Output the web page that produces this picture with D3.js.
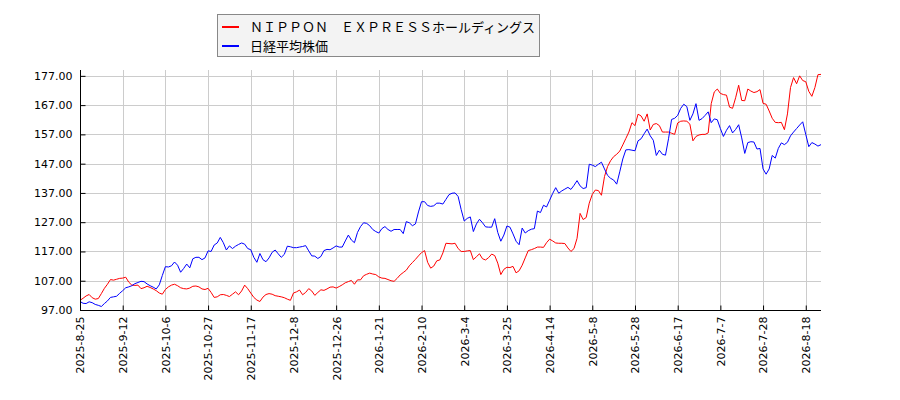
<!DOCTYPE html>
<html><head><meta charset="utf-8">
<script src="https://cdn.jsdelivr.net/npm/d3@7/dist/d3.min.js"></script>
<style>body{margin:0;background:#fff;}svg{display:block;}</style>
</head><body>
<svg id="chart" width="900" height="400"></svg>
<script>
const seriesNames = ["ＮＩＰＰＯＮ　ＥＸＰＲＥＳＳホールディングス", "日経平均株価"];
const seriesColors = ["#ff0000", "#0000ff"];
const tickLabels = ["2025-8-25","2025-9-12","2025-10-6","2025-10-27","2025-11-17","2025-12-8","2025-12-26","2026-1-21","2026-2-10","2026-3-4","2026-3-25","2026-4-14","2026-5-8","2026-5-28","2026-6-17","2026-7-7","2026-7-28","2026-8-18"];
const tickStep = 14;
const yTicks = [97,107,117,127,137,147,157,167,177];

const nipponExpress = [
100.3,101.0,101.8,102.3,101.2,100.7,100.9,102.6,104.4,105.8,
107.4,107.2,107.5,107.8,107.9,108.2,106.5,105.5,105.4,105.5,
104.3,104.6,105.1,104.7,104.2,103.6,102.8,102.4,104.0,104.9,
105.5,105.8,105.3,104.6,104.3,104.2,104.5,105.1,105.2,104.9,
104.2,104.0,104.4,103.0,101.3,101.5,102.2,102.3,102.0,101.6,
102.4,103.2,102.2,103.5,105.5,104.3,102.8,101.3,100.4,99.9,
101.4,102.3,102.6,102.4,101.9,101.7,101.5,101.2,100.7,100.3,
102.8,103.2,103.8,102.2,103.0,104.3,103.5,102.0,103.0,103.9,
103.7,104.2,104.8,104.9,104.5,105.0,105.6,106.3,106.7,107.1,
105.8,107.3,107.3,108.7,109.2,109.6,109.3,109.1,108.3,107.9,
107.8,107.4,107.0,106.8,107.8,109.0,109.8,110.6,112.1,113.2,
114.3,115.5,116.6,117.3,113.3,111.3,112.0,113.8,114.1,116.5,
119.8,119.7,119.6,119.8,118.0,117.0,117.0,117.2,117.3,114.2,
115.2,116.2,114.5,114.1,114.9,116.1,115.6,113.0,109.1,110.9,
111.6,111.5,111.9,109.7,110.4,112.3,114.8,117.3,117.6,118.0,
118.5,118.5,118.4,120.0,121.2,120.6,119.9,119.8,119.8,119.7,
118.2,117.0,118.0,121.5,130.0,127.9,128.6,133.5,136.5,138.0,
137.8,136.2,142.6,146.0,148.0,149.4,150.2,151.3,153.4,155.6,
157.8,161.0,160.0,163.9,163.3,161.5,164.0,158.5,160.4,160.7,
160.0,157.8,157.8,157.8,157.4,157.0,160.9,161.5,161.6,161.5,
160.5,154.8,156.3,156.8,157.0,157.0,157.5,167.5,171.5,172.5,
171.0,170.6,170.4,166.3,165.9,169.5,173.8,168.6,168.5,172.5,
171.8,171.3,171.6,172.3,167.6,167.3,165.0,162.5,161.1,161.0,
161.1,158.6,164.0,173.0,176.4,174.3,177.0,175.4,175.0,171.7,
170.0,173.0,177.4,177.5
];

const nikkei = [
99.9,99.3,99.2,99.8,99.5,98.9,98.6,98.2,99.2,100.1,
101.3,101.5,101.7,102.7,103.6,104.6,104.9,105.3,106.0,106.4,
106.8,106.7,105.9,105.3,104.8,104.2,105.6,108.8,111.8,111.7,
112.1,113.4,112.3,109.9,111.2,112.7,111.4,114.5,115.0,115.0,
114.2,114.8,117.2,117.0,119.2,119.9,121.8,120.0,117.5,118.9,
118.0,118.8,119.4,119.9,119.5,118.0,117.6,115.0,113.3,116.3,
114.2,113.5,114.8,116.7,117.5,116.2,115.0,116.0,118.8,118.6,
118.3,118.3,118.5,118.7,119.0,117.2,115.5,115.4,114.6,115.3,
117.3,117.7,117.6,118.2,118.9,118.5,118.5,120.6,122.6,120.9,
120.0,123.5,125.5,126.8,126.6,125.8,124.5,123.8,123.3,124.8,
125.5,124.5,123.9,124.5,124.5,124.5,123.1,127.2,126.8,125.8,
126.4,130.5,134.0,134.0,132.7,132.4,132.6,133.5,133.5,133.2,
134.8,136.4,136.9,137.0,135.8,131.3,127.4,128.3,128.8,123.8,
126.4,128.0,126.8,125.4,125.3,125.3,128.2,123.5,120.5,122.6,
125.7,125.3,123.0,120.5,119.3,125.0,123.3,124.1,124.6,124.8,
130.8,130.3,132.8,132.2,134.5,136.8,138.8,136.9,137.7,138.3,
138.9,138.2,139.6,141.2,139.4,138.5,138.8,146.8,146.5,146.0,
146.8,147.5,145.2,143.0,142.0,141.4,140.0,144.2,148.6,151.7,
151.8,151.6,151.4,154.8,155.5,157.2,158.8,156.5,155.0,149.8,
151.6,150.2,149.9,155.5,162.1,162.5,163.5,165.9,167.3,166.5,
161.8,164.0,167.5,161.8,162.4,163.5,164.7,161.0,162.3,162.0,
159.0,156.3,158.4,160.0,157.5,158.7,160.3,155.8,150.5,154.2,
154.5,154.4,152.0,152.2,145.2,143.4,145.2,149.8,148.9,152.2,
154.1,153.5,154.3,156.5,157.8,159.0,160.2,161.3,157.0,152.8,
154.2,153.7,153.0,153.5
];

const svg = d3.select("#chart");
const mLeft = 80, mRight = 821, mTop = 70, mBottom = 310;
const n = nipponExpress.length;
const x = d3.scaleLinear().domain([0, n - 1]).range([mLeft, mRight]);
const y = d3.scaleLinear().domain([97, 179]).range([mBottom, mTop]);
const tickIdx = tickLabels.map((d, i) => i * tickStep);

const grid = svg.append("g").attr("stroke", "#cccccc").attr("stroke-width", 1);
grid.selectAll("line.v").data(tickIdx).join("line")
  .attr("x1", d => Math.round(x(d)) + 0.5).attr("x2", d => Math.round(x(d)) + 0.5)
  .attr("y1", mTop).attr("y2", mBottom);
grid.selectAll("line.h").data(yTicks).join("line")
  .attr("x1", mLeft).attr("x2", mRight)
  .attr("y1", d => Math.round(y(d)) + 0.5).attr("y2", d => Math.round(y(d)) + 0.5);

const line = d3.line().x((d, i) => x(i)).y(d => y(d));
[nipponExpress, nikkei].forEach((s, k) => {
  svg.append("path").datum(s).attr("fill", "none")
    .attr("stroke", seriesColors[k]).attr("stroke-width", 1).attr("d", line);
});

const yAxis = d3.axisLeft(y).tickValues(yTicks).tickSize(-5).tickPadding(8).tickFormat(d3.format(".2f"));
const gy = svg.append("g").attr("transform", `translate(${mLeft + 0.5},0)`).call(yAxis);
gy.select(".domain").attr("d", `M0,${mTop}V${mBottom}`);
gy.selectAll("text").attr("font-family", "DejaVu Sans, sans-serif").attr("font-size", 11).attr("fill", "#000");

const xAxis = d3.axisBottom(x).tickValues(tickIdx).tickSize(-5).tickFormat((d, i) => tickLabels[i]);
const gx = svg.append("g").attr("transform", `translate(0,${mBottom + 0.5})`).call(xAxis);
gx.select(".domain").attr("d", `M${mLeft},0H${mRight}`);
gx.selectAll("text").attr("font-family", "DejaVu Sans, sans-serif").attr("font-size", 11).attr("fill", "#000")
  .attr("transform", "rotate(-90)").attr("text-anchor", "end").attr("dx", "-6").attr("dy", "0.35em").attr("y", 0).attr("x", 0);
[gx, gy].forEach(g => g.selectAll(".domain, line").attr("stroke", "#000"));

const lg = svg.append("g");
lg.append("rect").attr("x", 217.5).attr("y", 14.5).attr("width", 322).attr("height", 42)
  .attr("fill", "#f3f3f3").attr("stroke", "#888");
seriesNames.forEach((name, k) => {
  const yy = 27 + k * 19;
  lg.append("line").attr("x1", 222).attr("x2", 239).attr("y1", yy).attr("y2", yy)
    .attr("stroke", seriesColors[k]).attr("stroke-width", 2);
  lg.append("text").attr("x", 250).attr("y", yy).attr("dy", "0.35em")
    .attr("font-family", "Noto Sans CJK JP, sans-serif").attr("font-size", 13).attr("fill", "#000").text(name);
});
</script>
</body></html>
